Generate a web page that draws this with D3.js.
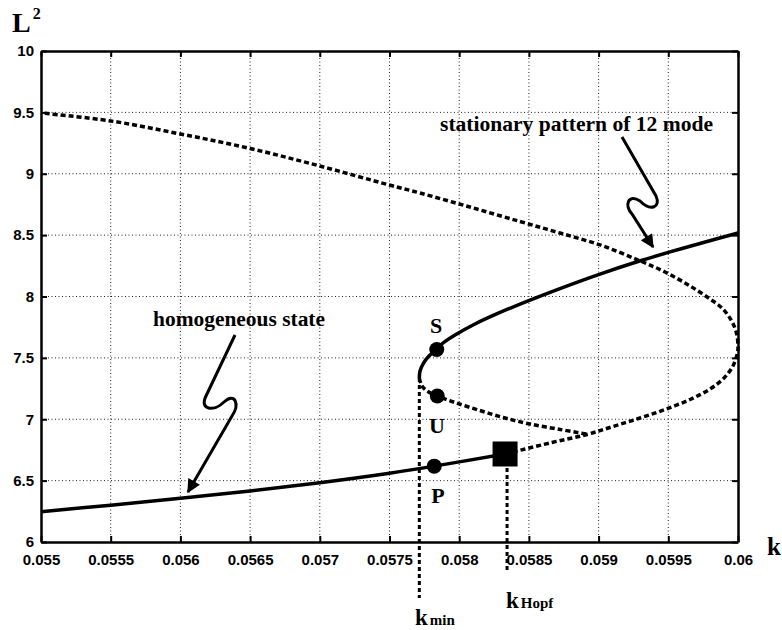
<!DOCTYPE html>
<html><head><meta charset="utf-8">
<script src="https://cdn.jsdelivr.net/npm/d3@7"></script>
<style>body{margin:0;background:#fff}</style>
</head><body>
<svg id="c" width="782" height="630"></svg>
<script>
// ---- data ----
const kTicks = [0.055,0.0555,0.056,0.0565,0.057,0.0575,0.058,0.0585,0.059,0.0595,0.06];
const kTickLabels = ["0.055","0.0555","0.056","0.0565","0.057","0.0575","0.058","0.0585","0.059","0.0595","0.06"];
const lTicks = [6,6.5,7,7.5,8,8.5,9,9.5,10];
const lTickLabels = ["6","6.5","7","7.5","8","8.5","9","9.5","10"];

// homogeneous state, stable part (solid)
const homogStableK = [0.055,0.0555,0.056,0.0565,0.057,0.0575,0.057821,0.058329];
const homogStableL = [6.247,6.300,6.356,6.416,6.483,6.560,6.618,6.717];
// homogeneous state, unstable part (dashed), folding back at k=0.06
const homogUnstableK = [0.058329,0.058651,0.058917,0.059103,0.059297,0.059476,0.059656,0.059799,0.059900,0.059964,0.059996,0.06,
  0.059989,0.059950,0.059885,0.059799,0.059656,0.059476,0.059283,0.059010,0.058723,0.058436,0.058077,0.057719,0.0575,0.057,0.0565,0.056,0.0555,0.055];
const homogUnstableL = [6.717,6.807,6.876,6.941,7.010,7.079,7.161,7.246,7.336,7.434,7.540,7.589,
  7.703,7.809,7.906,7.980,8.086,8.200,8.297,8.420,8.517,8.611,8.729,8.843,8.908,9.063,9.206,9.324,9.430,9.495];
// stationary pattern of 12 mode, stable (solid)
const patternStableK = [0.06,0.059727,0.059512,0.059283,0.059010,0.058723,0.058508,0.058293,0.058113,0.057970,0.057884,0.057839,0.057783,0.057740,0.057719,0.057714];
const patternStableL = [8.517,8.432,8.363,8.285,8.183,8.065,7.971,7.870,7.776,7.686,7.621,7.568,7.515,7.450,7.393,7.336];
// stationary pattern, unstable (dashed)
const patternUnstableK = [0.057714,0.057733,0.057776,0.057843,0.057970,0.058149,0.058329,0.058508,0.058723,0.058917];
const patternUnstableL = [7.336,7.271,7.226,7.189,7.136,7.071,7.010,6.961,6.917,6.878];

const pointNames = ["S","U","P"];
const pointK = [0.057839,0.057843,0.057821];
const pointL = [7.568,7.189,6.618];
const hopfK = 0.058329, hopfL = 6.717;
const kMin = 0.057714, kMinL = 7.336;

// ---- layout ----
const svg = d3.select("#c");
const X0=41, X1=738, Y0=542, Y1=51;
const x = d3.scaleLinear().domain([0.055,0.06]).range([X0,X1]);
const y = d3.scaleLinear().domain([6,10]).range([Y0,Y1]);
const zip = (a,b)=>a.map((v,i)=>[v,b[i]]);
const line = d3.line().x(d=>x(d[0])).y(d=>y(d[1])).curve(d3.curveCatmullRom.alpha(0.5));

// grid
const g = svg.append("g");
g.selectAll(".gx").data(kTicks.slice(1,-1)).enter().append("line")
 .attr("x1",d=>x(d)).attr("x2",d=>x(d)).attr("y1",Y0).attr("y2",Y1)
 .attr("stroke","#222").attr("stroke-width",1).attr("stroke-dasharray","1,2.5");
g.selectAll(".gy").data(lTicks.slice(1,-1)).enter().append("line")
 .attr("y1",d=>y(d)).attr("y2",d=>y(d)).attr("x1",X0).attr("x2",X1)
 .attr("stroke","#222").attr("stroke-width",1).attr("stroke-dasharray","1,2.5");

// axes with inward ticks
const fontTick = "bold 15px 'Liberation Sans', Arial, sans-serif";
const ax = svg.append("g").attr("transform",`translate(0,${Y0})`)
 .call(d3.axisBottom(x).tickValues(kTicks).tickFormat((d,i)=>kTickLabels[i]).tickSizeInner(-6).tickSizeOuter(0).tickPadding(12));
const axTop = svg.append("g").attr("transform",`translate(0,${Y1})`)
 .call(d3.axisTop(x).tickValues(kTicks).tickFormat("").tickSizeInner(-6).tickSizeOuter(0));
const ay = svg.append("g").attr("transform",`translate(${X0},0)`)
 .call(d3.axisLeft(y).tickValues(lTicks).tickFormat((d,i)=>lTickLabels[i]).tickSizeInner(-6).tickSizeOuter(0).tickPadding(7));
const ayR = svg.append("g").attr("transform",`translate(${X1},0)`)
 .call(d3.axisRight(y).tickValues(lTicks).tickFormat("").tickSizeInner(-6).tickSizeOuter(0));
[ax,axTop,ay,ayR].forEach(a=>{
  a.select(".domain").attr("stroke","#000").attr("stroke-width",2.5);
  a.selectAll(".tick line").attr("stroke","#000").attr("stroke-width",2);
  a.selectAll("text").style("font",fontTick).attr("fill","#000");
});

// curves
const dashed = "5,3";
svg.append("path").attr("d",line(zip(homogUnstableK,homogUnstableL)))
 .attr("fill","none").attr("stroke","#000").attr("stroke-width",3.5).attr("stroke-dasharray",dashed);
svg.append("path").attr("d",line(zip(patternUnstableK,patternUnstableL)))
 .attr("fill","none").attr("stroke","#000").attr("stroke-width",3.5).attr("stroke-dasharray",dashed);
svg.append("path").attr("d",line(zip(homogStableK,homogStableL)))
 .attr("fill","none").attr("stroke","#000").attr("stroke-width",3.5);
svg.append("path").attr("d",line(zip(patternStableK,patternStableL)))
 .attr("fill","none").attr("stroke","#000").attr("stroke-width",3.5);

// vertical marker lines
svg.append("line").attr("x1",x(kMin)).attr("x2",x(kMin)).attr("y1",y(kMinL)).attr("y2",598)
 .attr("stroke","#000").attr("stroke-width",3).attr("stroke-dasharray","4,3");
svg.append("line").attr("x1",x(hopfK)+2).attr("x2",x(hopfK)+2).attr("y1",y(hopfL)).attr("y2",570)
 .attr("stroke","#000").attr("stroke-width",3).attr("stroke-dasharray","4,3");

// points
svg.selectAll(".pt").data(pointK).enter().append("circle")
 .attr("cx",(d)=>x(d)).attr("cy",(d,i)=>y(pointL[i])).attr("r",7.5).attr("fill","#000");
svg.append("rect").attr("x",x(hopfK)-12.5).attr("y",y(hopfL)-12.5).attr("width",25).attr("height",25).attr("fill","#000");

// texts
const serif = "'Liberation Serif','Times New Roman',serif";
const txt = (s,tx,ty,size,anchor)=>svg.append("text").attr("x",tx).attr("y",ty)
 .attr("font-family",serif).attr("font-weight","bold").attr("font-size",size)
 .attr("text-anchor",anchor||"start").attr("fill","#000").text(s);
txt("S",436,333,22,"middle");
txt("U",437,433,22,"middle");
txt("P",438,503,22,"middle");
txt("homogeneous state",153,326,20).attr("textLength",172).attr("lengthAdjust","spacingAndGlyphs");
txt("stationary pattern of 12 mode",440,131,20).attr("textLength",273).attr("lengthAdjust","spacingAndGlyphs");
const lt = svg.append("text").attr("x",12).attr("y",32).attr("font-family",serif).attr("font-weight","bold").attr("font-size",28).attr("fill","#000");
lt.append("tspan").text("L");
lt.append("tspan").attr("dy",-13).attr("dx",2).attr("font-size",16).text("2");
txt("k",767,555,25);
const km = txt("k",415,625,23); km.append("tspan").attr("font-size",15).attr("dx",2).text("min");
const kh = txt("k",506,608,23); kh.append("tspan").attr("font-size",15).attr("dx",2).text("Hopf");

// arrows
const defs = svg.append("defs");
defs.append("marker").attr("id","ah").attr("viewBox","0 0 10 10").attr("refX",9).attr("refY",5)
 .attr("markerWidth",5).attr("markerHeight",4.5).attr("markerUnits","strokeWidth").attr("orient","auto")
 .append("path").attr("d","M0,0 L10,5 L0,10 z").attr("fill","#000");
svg.append("path").attr("d","M235,335 L206,396 C199,410 214,412 224,402 C235,392 240,404 232,416 L188,492")
 .attr("fill","none").attr("stroke","#000").attr("stroke-width",3).attr("marker-end","url(#ah)");
svg.append("path").attr("d","M622,137 L656,196 C661,207 651,212 640,201 C628,193 624,206 632,214 L653,247")
 .attr("fill","none").attr("stroke","#000").attr("stroke-width",3).attr("marker-end","url(#ah)");
</script>
</body></html>
